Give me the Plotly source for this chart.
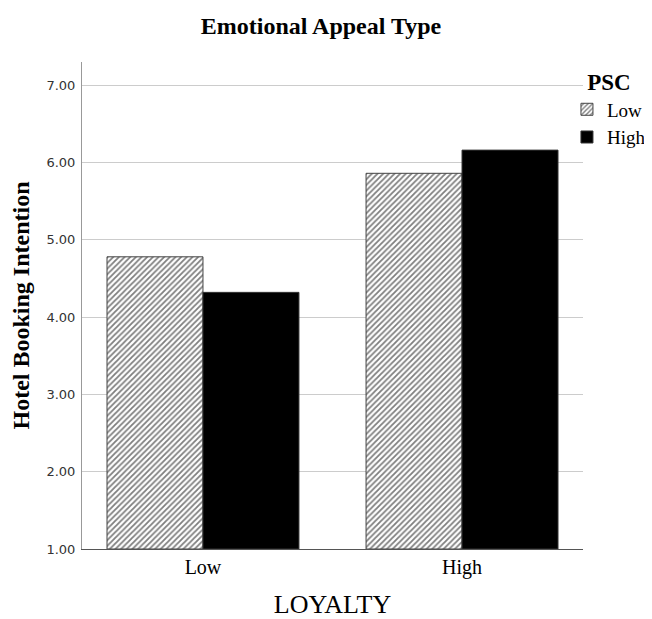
import plotly.graph_objects as go

categories = ["Low", "High"]
psc_low = [4.78, 5.86]
psc_high = [4.32, 6.16]
y_ticks = [1, 2, 3, 4, 5, 6, 7]
y_tick_labels = ["1.00", "2.00", "3.00", "4.00", "5.00", "6.00", "7.00"]

serif = "Liberation Serif, Times New Roman, serif"

fig = go.Figure()
fig.add_trace(go.Bar(
    x=categories, y=[v - 1 for v in psc_low], base=1, name="Low",
    marker=dict(color="white",
                pattern=dict(shape="/", fgcolor="black", bgcolor="white", size=4, solidity=0.45),
                line=dict(color="#444444", width=1)),
))
fig.add_trace(go.Bar(
    x=categories, y=[v - 1 for v in psc_high], base=1, name="High",
    marker=dict(color="black", line=dict(color="#333333", width=1)),
))

fig.update_layout(
    width=644, height=611,
    paper_bgcolor="white", plot_bgcolor="white",
    margin=dict(l=74, r=69, t=54, b=70, autoexpand=False),
    barmode="group", bargap=0.259, bargroupgap=0,
    title=dict(text="<b>Emotional Appeal Type</b>", x=0.486, xanchor="center", y=0.972, yanchor="middle",
               font=dict(family=serif, size=24, color="black")),
    xaxis=dict(range=[-0.467, 1.467], showline=True, linecolor="#555555", linewidth=1,
               ticks="", tickfont=dict(family=serif, size=20, color="black"),
               title=dict(text="LOYALTY", font=dict(family=serif, size=26, color="black"), standoff=24),
               showgrid=False, zeroline=False, automargin=False),
    yaxis=dict(range=[1, 7.3], tickvals=y_ticks, ticktext=y_tick_labels,
               showline=True, linecolor="#999999", linewidth=1,
               ticks="", ticklabelstandoff=3, tickfont=dict(family="DejaVu Sans", size=13, color="#333333"),
               gridcolor="#cccccc", gridwidth=1, zeroline=False, automargin=False,
               title=dict(text="<b>Hotel Booking Intention</b>", font=dict(family=serif, size=24, color="black"), standoff=10)),
    legend=dict(title=dict(text="<b>PSC</b>", side="top center", font=dict(family=serif, size=23, color="black")),
                font=dict(family=serif, size=19, color="black"),
                x=0.968, xanchor="left", y=1.003, yanchor="top",
                itemwidth=30, tracegroupgap=0, bgcolor="rgba(0,0,0,0)"),
)

fig.write_html("out.html")
